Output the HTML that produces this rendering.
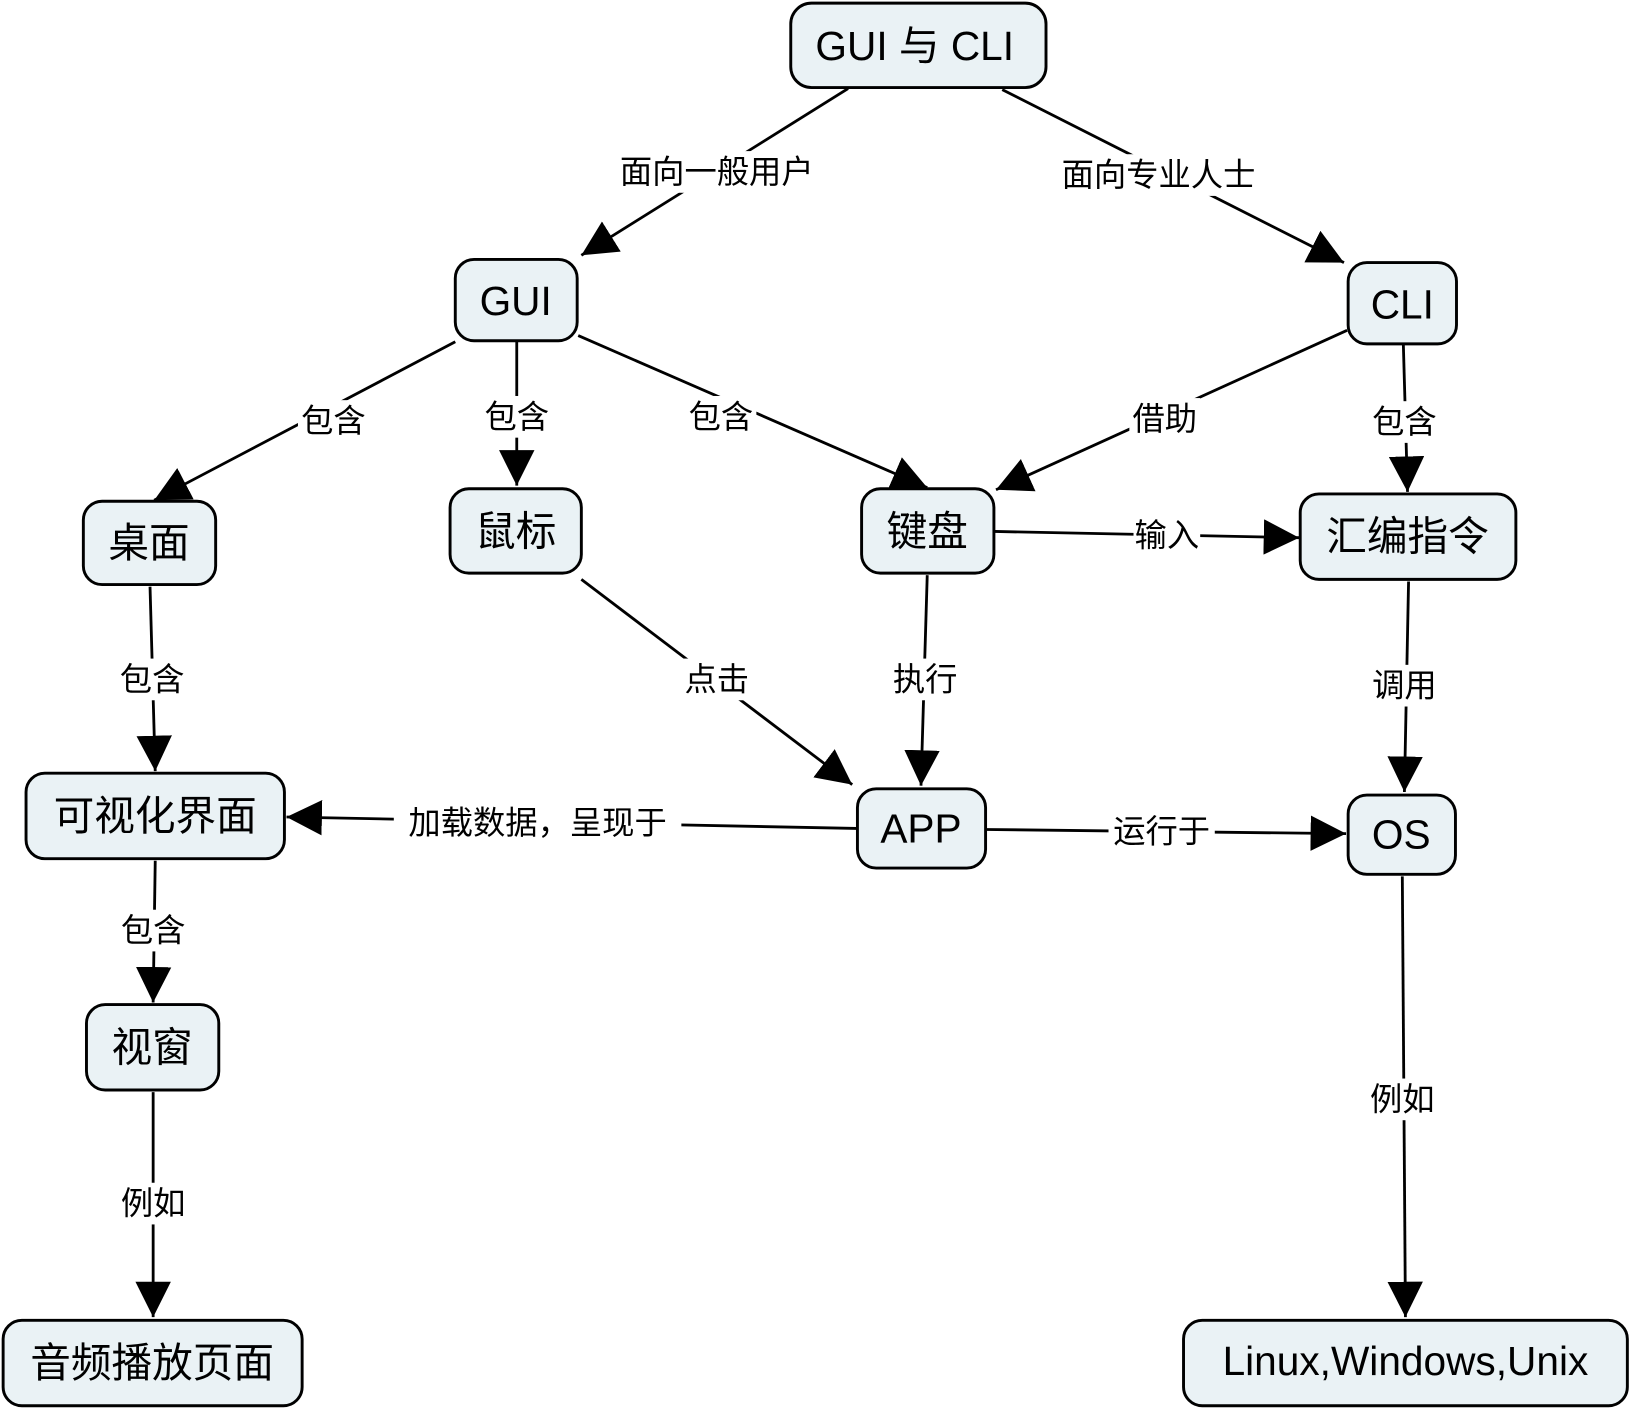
<!DOCTYPE html>
<html><head><meta charset="utf-8"><style>
html,body{margin:0;padding:0;background:#fff;}
svg{display:block;}
.n{fill:#eaf2f5;stroke:#000;stroke-width:2.8;}
.t{font-family:"Liberation Sans","Noto Sans CJK SC",sans-serif;font-size:39px;text-anchor:middle;dominant-baseline:central;fill:#000;}
.l{font-family:"Liberation Sans","Noto Sans CJK SC",sans-serif;font-size:31px;text-anchor:middle;dominant-baseline:central;fill:#000;}
.lb{fill:#fff;}
line{stroke:#000;stroke-width:2.7;}
</style></head><body>
<svg width="1631" height="1412" viewBox="0 0 1565.5 1355" preserveAspectRatio="none" xmlns="http://www.w3.org/2000/svg">
<defs><marker id="a" markerUnits="userSpaceOnUse" markerWidth="34" markerHeight="34" viewBox="0 0 30 30" refX="30" refY="15" orient="auto"><path d="M0,0 L30,15 L0,30 z" fill="#000"/></marker></defs>
<g>
<line x1="814" y1="85" x2="558" y2="245" marker-end="url(#a)"/>
<line x1="962" y1="86" x2="1290" y2="252" marker-end="url(#a)"/>
<line x1="437" y1="328" x2="148" y2="480" marker-end="url(#a)"/>
<line x1="496" y1="328" x2="496" y2="466" marker-end="url(#a)"/>
<line x1="555" y1="322" x2="890" y2="468" marker-end="url(#a)"/>
<line x1="1293" y1="317" x2="956" y2="470" marker-end="url(#a)"/>
<line x1="1347" y1="331" x2="1351" y2="472" marker-end="url(#a)"/>
<line x1="955" y1="510" x2="1247" y2="516" marker-end="url(#a)"/>
<line x1="144" y1="563" x2="149" y2="740" marker-end="url(#a)"/>
<line x1="558" y1="556" x2="818" y2="753" marker-end="url(#a)"/>
<line x1="890" y1="552" x2="884" y2="754" marker-end="url(#a)"/>
<line x1="1352" y1="558" x2="1348" y2="760" marker-end="url(#a)"/>
<line x1="822" y1="795" x2="275" y2="784" marker-end="url(#a)"/>
<line x1="947" y1="796" x2="1292" y2="800" marker-end="url(#a)"/>
<line x1="149" y1="826" x2="147" y2="962" marker-end="url(#a)"/>
<line x1="147" y1="1048" x2="147" y2="1264" marker-end="url(#a)"/>
<line x1="1346" y1="841" x2="1349" y2="1264" marker-end="url(#a)"/>
</g>
<g>
<rect class="lb" x="588" y="145" width="200" height="40"/><text class="l" x="688" y="165">面向一般用户</text>
<rect class="lb" x="1012" y="148" width="200" height="40"/><text class="l" x="1112" y="168">面向专业人士</text>
<rect class="lb" x="286" y="384" width="68" height="40"/><text class="l" x="320" y="404">包含</text>
<rect class="lb" x="462" y="380" width="68" height="40"/><text class="l" x="496" y="400">包含</text>
<rect class="lb" x="658" y="380" width="68" height="40"/><text class="l" x="692" y="400">包含</text>
<rect class="lb" x="1084" y="382" width="68" height="40"/><text class="l" x="1118" y="402">借助</text>
<rect class="lb" x="1314" y="385" width="68" height="40"/><text class="l" x="1348" y="405">包含</text>
<rect class="lb" x="1088" y="494" width="64" height="40"/><text class="l" x="1120" y="514">输入</text>
<rect class="lb" x="112" y="632" width="68" height="40"/><text class="l" x="146" y="652">包含</text>
<rect class="lb" x="654" y="632" width="68" height="40"/><text class="l" x="688" y="652">点击</text>
<rect class="lb" x="854" y="632" width="68" height="40"/><text class="l" x="888" y="652">执行</text>
<rect class="lb" x="1314" y="638" width="68" height="40"/><text class="l" x="1348" y="658">调用</text>
<rect class="lb" x="378" y="770" width="276" height="40"/><text class="l" x="516" y="790">加载数据，呈现于</text>
<rect class="lb" x="1064" y="778" width="102" height="40"/><text class="l" x="1115" y="798">运行于</text>
<rect class="lb" x="113" y="873" width="68" height="40"/><text class="l" x="147" y="893">包含</text>
<rect class="lb" x="113" y="1135" width="68" height="40"/><text class="l" x="147" y="1155">例如</text>
<rect class="lb" x="1312" y="1035" width="68" height="40"/><text class="l" x="1346" y="1055">例如</text>
</g>
<g>
<rect class="n" x="759" y="3" width="245" height="81" rx="20"/><text class="t" x="878" y="44">GUI 与 CLI</text>
<rect class="n" x="437" y="249" width="117" height="78" rx="18"/><text class="t" x="495" y="289">GUI</text>
<rect class="n" x="1294" y="252" width="104" height="78" rx="18"/><text class="t" x="1346" y="292">CLI</text>
<rect class="n" x="80" y="481" width="127" height="80" rx="18"/><text class="t" x="143" y="521">桌面</text>
<rect class="n" x="432" y="469" width="126" height="81" rx="18"/><text class="t" x="495" y="510">鼠标</text>
<rect class="n" x="827" y="469" width="127" height="81" rx="18"/><text class="t" x="890" y="510">键盘</text>
<rect class="n" x="1248" y="474" width="207" height="82" rx="18"/><text class="t" x="1351" y="515">汇编指令</text>
<rect class="n" x="25" y="742" width="248" height="82" rx="18"/><text class="t" x="149" y="783">可视化界面</text>
<rect class="n" x="823" y="757" width="123" height="76" rx="18"/><text class="t" x="884" y="795">APP</text>
<rect class="n" x="1294" y="763" width="103" height="76" rx="18"/><text class="t" x="1345" y="801">OS</text>
<rect class="n" x="83" y="964" width="127" height="82" rx="18"/><text class="t" x="146" y="1005">视窗</text>
<rect class="n" x="3" y="1267" width="287" height="82" rx="18"/><text class="t" x="146" y="1308">音频播放页面</text>
<rect class="n" x="1136" y="1267" width="426" height="82" rx="18"/><text class="t" x="1349" y="1306">Linux,Windows,Unix</text>
</g>
</svg>
</body></html>
